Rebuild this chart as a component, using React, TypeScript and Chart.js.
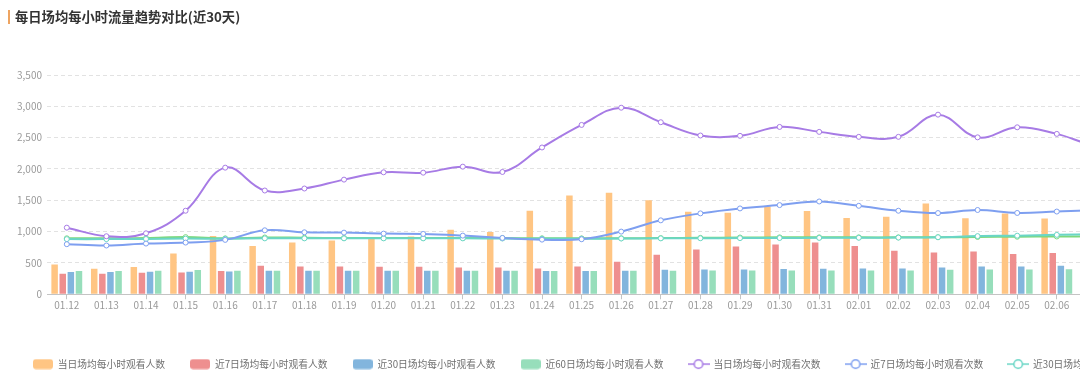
import React, { useEffect, useRef } from 'react';
import { Chart, registerables } from 'chart.js';

Chart.register(...registerables);

const categories = [
  '01.12', '01.13', '01.14', '01.15', '01.16', '01.17', '01.18', '01.19', '01.20', '01.21',
  '01.22', '01.23', '01.24', '01.25', '01.26', '01.27', '01.28', '01.29', '01.30', '01.31',
  '02.01', '02.02', '02.03', '02.04', '02.05', '02.06', '02.07', '02.08', '02.09', '02.10',
];

const dailyViewers = [476, 407, 434, 651, 931, 772, 825, 857, 910, 920, 1031, 995, 1333, 1576, 1619, 1502, 1317, 1301, 1402, 1328, 1217, 1238, 1450, 1215, 1288, 1208, 1180, 1250, 1300, 1150];
const avg7Viewers = [328, 328, 344, 349, 370, 455, 444, 444, 439, 439, 428, 428, 413, 444, 518, 630, 714, 762, 794, 825, 772, 693, 667, 682, 644, 658, 640, 650, 660, 640];
const avg30Viewers = [354, 354, 360, 360, 365, 376, 376, 376, 376, 376, 376, 376, 372, 372, 376, 391, 397, 397, 402, 407, 413, 413, 428, 441, 441, 456, 460, 462, 465, 470];
const avg60Viewers = [370, 370, 376, 386, 376, 376, 376, 376, 376, 376, 376, 376, 372, 372, 376, 376, 381, 381, 381, 381, 381, 381, 391, 394, 394, 400, 402, 404, 405, 406];
const dailyViews = [1063, 926, 973, 1333, 2021, 1656, 1688, 1830, 1947, 1941, 2037, 1952, 2343, 2703, 2978, 2746, 2534, 2529, 2671, 2592, 2513, 2513, 2867, 2505, 2665, 2560, 2380, 2450, 2600, 2500];
const avg7Views = [799, 778, 809, 825, 868, 1021, 989, 984, 968, 963, 936, 899, 872, 878, 1000, 1180, 1291, 1370, 1423, 1481, 1412, 1333, 1296, 1345, 1298, 1320, 1340, 1330, 1350, 1340];
const avg30Views = [880, 880, 882, 888, 886, 892, 892, 892, 892, 892, 892, 890, 886, 886, 890, 892, 894, 896, 898, 900, 902, 904, 910, 928, 935, 948, 960, 965, 970, 975];
const avg60Views = [893, 893, 896, 912, 892, 906, 902, 898, 898, 898, 898, 896, 893, 892, 893, 896, 900, 906, 908, 908, 908, 908, 910, 914, 918, 922, 924, 926, 928, 930];

const seriesNames = [
  '当日场均每小时观看人数',
  '近7日场均每小时观看人数',
  '近30日场均每小时观看人数',
  '近60日场均每小时观看人数',
  '当日场均每小时观看次数',
  '近7日场均每小时观看次数',
  '近30日场均每小时观看次数',
  '近60日场均每小时观看次数',
];

const barColors = ['#ffc583', '#ee8f8f', '#82b5dd', '#97debb'];
const lineColors = ['#a77be5', '#7e9ff0', '#6ad6c6', '#7dd87d'];

const FONT = '"Noto Sans CJK SC", "Noto Sans", sans-serif';
const W = 1352;
const H = 385;
const PLOT_LEFT = 47;
const PLOT_RIGHT = 1235;

function boxIcon(color: string) {
  const c = document.createElement('canvas');
  c.width = 20;
  c.height = 11;
  const ctx = c.getContext('2d')!;
  ctx.fillStyle = color;
  ctx.beginPath();
  (ctx as any).roundRect(0, 0.5, 20, 10, 3);
  ctx.fill();
  return c;
}

function lineIcon(color: string) {
  const c = document.createElement('canvas');
  c.width = 22;
  c.height = 12;
  const ctx = c.getContext('2d')!;
  ctx.strokeStyle = color;
  ctx.lineWidth = 1.5;
  ctx.beginPath();
  ctx.moveTo(0, 6);
  ctx.lineTo(22, 6);
  ctx.stroke();
  ctx.beginPath();
  ctx.arc(11, 6, 4.3, 0, Math.PI * 2);
  ctx.fillStyle = '#fff';
  ctx.fill();
  ctx.stroke();
  return c;
}

export default function App() {
  const ref = useRef<HTMLCanvasElement | null>(null);

  useEffect(() => {
    document.body.style.margin = '0';
    document.body.style.overflow = 'hidden';
    Chart.defaults.font.family = FONT;
    const icons = [
      ...barColors.map(boxIcon),
      ...lineColors.map(lineIcon),
    ];
    const barData = [dailyViewers, avg7Viewers, avg30Viewers, avg60Viewers];
    const lineData = [dailyViews, avg7Views, avg30Views, avg60Views];
    const datasets: any[] = [
      ...barData.map((d, i) => ({
        type: 'bar',
        label: seriesNames[i],
        data: d,
        backgroundColor: barColors[i],
        borderWidth: 0,
        barPercentage: 0.8,
        categoryPercentage: 0.82,
        order: 2,
        yAxisID: 'y',
      })),
      ...lineData.map((d, i) => ({
        type: 'line',
        label: seriesNames[i + 4],
        data: d,
        borderColor: lineColors[i],
        backgroundColor: '#fff',
        borderWidth: 2,
        pointRadius: 2.5,
        pointBorderWidth: 1,
        pointBackgroundColor: '#fff',
        pointBorderColor: lineColors[i],
        tension: 0.4,
        fill: false,
        order: 1,
        yAxisID: 'y',
      })),
    ];

    const chart = new Chart(ref.current!, {
      type: 'bar',
      data: { labels: categories, datasets },
      options: {
        animation: false,
        responsive: false,
        devicePixelRatio: 1,
        layout: { padding: { top: 75, bottom: 6, left: 0, right: 0 } },
        plugins: {
          tooltip: { enabled: false },
          legend: {
            position: 'bottom',
            labels: {
              usePointStyle: true,
              pointStyleWidth: 20,
              boxHeight: 10,
              padding: 25,
              color: '#707070',
              font: { size: 9.75, family: FONT },
              generateLabels: (c: any) => {
                const items = (Chart.defaults.plugins.legend.labels as any).generateLabels(c);
                items.sort((a: any, b: any) => a.datasetIndex - b.datasetIndex);
                items.forEach((it: any) => {
                  it.pointStyle = icons[it.datasetIndex];
                  it.lineWidth = 0;
                });
                return items;
              },
            },
          },
        },
        scales: {
          x: {
            offset: true,
            grid: {
              display: true,
              drawOnChartArea: false,
              drawTicks: true,
              tickLength: 5,
              offset: false,
              color: '#c4c4c4',
            },
            border: { display: true, color: '#c4c4c4' },
            ticks: {
              color: '#9a9a9a',
              padding: 0,
              maxRotation: 0,
              autoSkip: false,
              font: { size: 10, family: FONT },
            },
            afterFit: (s: any) => {
              s.height = 40;
            },
          },
          y: {
            min: 0,
            max: 3500,
            ticks: {
              stepSize: 500,
              color: '#9a9a9a',
              padding: 5,
              font: { size: 10, family: FONT },
            },
            grid: { color: '#e2e2e2', drawTicks: false },
            border: { display: false, dash: [4, 3] },
            afterFit: (s: any) => {
              s.width = PLOT_LEFT;
            },
          },
          yPad: {
            position: 'right',
            display: true,
            grid: { display: false },
            ticks: { display: false },
            border: { display: false },
            afterFit: (s: any) => {
              s.width = W - PLOT_RIGHT;
            },
          },
        },
      } as any,
    });
    return () => chart.destroy();
  }, []);

  return (
    <div style={{ position: 'relative', width: W, height: H, overflow: 'visible' }}>
      <canvas ref={ref} width={W} height={H} style={{ position: 'absolute', left: 0, top: 0, width: W, height: H }} />
      <div
        style={{
          position: 'absolute',
          left: 8,
          top: 10,
          height: 14,
          lineHeight: '14px',
          borderLeft: '2px solid #eea461',
          paddingLeft: 5,
          fontFamily: FONT,
          fontWeight: 'bold',
          fontSize: 13.3,
          color: '#333',
          whiteSpace: 'nowrap',
        }}
      >
        每日场均每小时流量趋势对比(近30天)
      </div>
    </div>
  );
}
